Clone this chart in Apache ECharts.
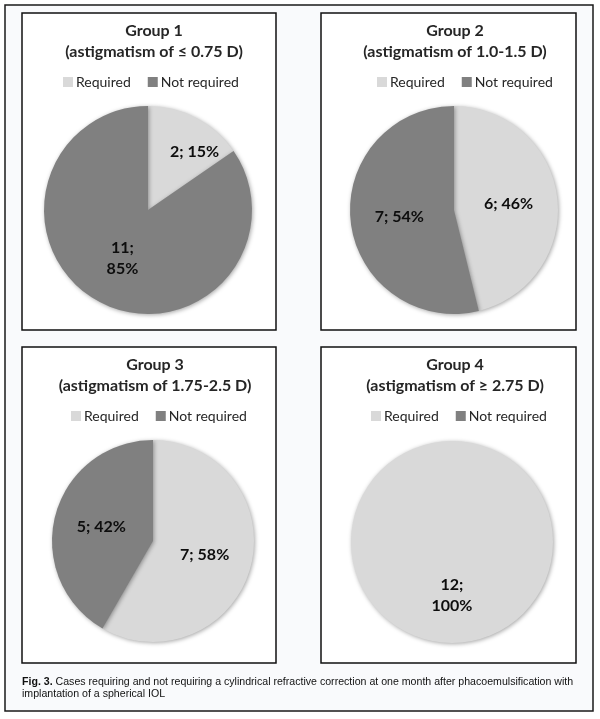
<!DOCTYPE html>
<html>
<head>
<meta charset="utf-8">
<script src="https://cdn.jsdelivr.net/npm/echarts@6/dist/echarts.min.js"></script>
<style>
  html, body { margin: 0; padding: 0; background: #ffffff; }
  #chart { width: 600px; height: 719px; }
</style>
</head>
<body>
<div id="chart"></div>
<script>
// ---- data ----
const categories = ['Required', 'Not required'];
const groupTitles = [
  'Group 1\n(astigmatism of ≤ 0.75 D)',
  'Group 2\n(astigmatism of 1.0-1.5 D)',
  'Group 3\n(astigmatism of 1.75-2.5 D)',
  'Group 4\n(astigmatism of ≥ 2.75 D)'
];
const group1 = [2, 11];
const group2 = [6, 7];
const group3 = [7, 5];
const group4 = [12, 0];
const captionBold = 'Fig. 3.';
const captionText = ' Cases requiring and not requiring a cylindrical refractive correction at one month after phacoemulsification with\nimplantation of a spherical IOL';

// ---- layout / style (not data) ----
const colors = ['#d9d9d9', '#808080'];
const FONT = 'Lato, "Open Sans", sans-serif';
const CAPFONT = '"Liberation Sans", Arial, sans-serif';
const CAPSIZE = 10.6;
const panels = [
  { x: 22,  y: 13,  w: 254, h: 317, cx: 149, legendLeft: 63,  center: [148, 210], r: 104 },
  { x: 321, y: 13,  w: 255, h: 317, cx: 450, legendLeft: 377, center: [454, 210], r: 104 },
  { x: 22,  y: 347, w: 254, h: 316, cx: 150, legendLeft: 71,  center: [153, 541], r: 101 },
  { x: 321, y: 347, w: 255, h: 316, cx: 450, legendLeft: 371, center: [452, 542], r: 101 }
];
const groups = [group1, group2, group3, group4];
const wrapIndex = [1, -1, -1, 0]; // which slice label is split over two lines

const chart = echarts.init(document.getElementById('chart'), null, { renderer: 'canvas' });

const graphicEls = [{
  type: 'rect', z: -10,
  shape: { x: 5, y: 5, width: 588, height: 706 },
  style: { fill: '#f9fafc', stroke: '#1a1a1a', lineWidth: 1.5 }
}];
panels.forEach(p => graphicEls.push({
  type: 'rect', z: -5,
  shape: { x: p.x, y: p.y, width: p.w, height: p.h },
  style: { fill: '#ffffff', stroke: '#111111', lineWidth: 1.5 }
}));

const titles = panels.map((p, i) => ({
  text: groupTitles[i],
  left: p.cx, top: p.y + 2,
  textAlign: 'center',
  textStyle: { fontFamily: FONT, fontSize: 16, fontWeight: 'bold', color: '#262626', lineHeight: 21 }
}));
const capLines = captionText.split('\n');
titles.push({
  text: '{b|' + captionBold + '}{n|' + capLines[0] + '}\n{n|' + capLines[1] + '}',
  left: 22, top: 676, padding: 0,
  textStyle: {
    fontFamily: CAPFONT, fontSize: CAPSIZE, fontWeight: 'normal', color: '#111', lineHeight: 12,
    rich: {
      b: { fontFamily: CAPFONT, fontSize: CAPSIZE, fontWeight: 'bold', color: '#111', lineHeight: 12 },
      n: { fontFamily: CAPFONT, fontSize: CAPSIZE, fontWeight: 'normal', color: '#111', lineHeight: 12 }
    }
  }
});

const legends = panels.map(p => ({
  data: categories,
  left: p.legendLeft, top: p.y + 62, padding: 0,
  orient: 'horizontal',
  itemWidth: 10, itemHeight: 10, itemGap: 17,
  icon: 'rect', selectedMode: false,
  textStyle: { fontFamily: FONT, fontSize: 14, color: '#262626', padding: [0, 0, 0, -2] }
}));

const series = panels.map((p, i) => ({
  type: 'pie',
  center: p.center,
  radius: p.r,
  startAngle: 90,
  clockwise: true,
  percentPrecision: 0,
  avoidLabelOverlap: false,
  silent: true,
  itemStyle: { shadowBlur: 4, shadowColor: 'rgba(0,0,0,0.35)', shadowOffsetX: 1, shadowOffsetY: 1 },
  label: {
    show: true, position: 'inside',
    fontFamily: FONT, fontSize: 16, fontWeight: 'bold', color: '#0d0d0d', lineHeight: 21,
    formatter: params => {
      if (!params.value) return '';
      const sep = params.dataIndex === wrapIndex[i] ? ';\n' : '; ';
      return params.value + sep + params.percent + '%';
    }
  },
  labelLayout: i === 0 ? (params => params.dataIndex === 0 ? { dx: 21, dy: -9 } : {}) : undefined,
  labelLine: { show: false },
  data: categories.map((c, k) => ({ name: c, value: groups[i][k], itemStyle: { color: colors[k] } }))
}));

chart.setOption({
  animation: false,
  backgroundColor: '#ffffff',
  color: colors,
  graphic: { elements: graphicEls },
  title: titles,
  legend: legends,
  series: series
});
</script>
</body>
</html>
